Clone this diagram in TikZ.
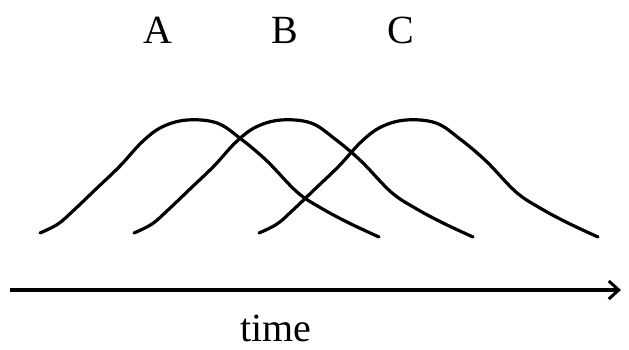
\documentclass[tikz,border=0pt]{standalone}
\usepackage{fontspec}
\setmainfont{Liberation Serif}
\usetikzlibrary{arrows.meta,decorations.pathmorphing}
\begin{document}
\begin{tikzpicture}[x=1pt,y=-1pt,
  curve/.style={line width=3.2pt,line cap=round,line join=round},
  axis/.style={line width=3.4pt,-{Straight Barb[length=10pt,width=18pt,line width=3pt]}},
  lbl/.style={font=\fontsize{40}{44}\selectfont,inner sep=0pt}]
\useasboundingbox (0,0) rectangle (629,349);
\fill[white] (0,0) rectangle (629,349);
\foreach \dx/\nm in {0/A,94/B,219/C}{
  \draw[curve,shift={(\dx,0)}] plot[smooth,tension=0.6] coordinates {
    (40,233) (58,224) (74,210) (96,189) (120,166) (142,142) (162,127)
    (187,120) (217,123) (241,139) (267,161) (297,192) (321,208) (349,223) (379,237)};
}
\node[lbl] (A) at (158,30) {A};
\node[lbl] (B) at (285,30) {B};
\node[lbl] (C) at (401,30) {C};
\coordinate (s) at (10,290);
\coordinate (e) at (621,290);
\draw[axis] (s) -- (e);
\node[lbl,anchor=base] (t) at (276,341) {time};
\end{tikzpicture}
\end{document}
